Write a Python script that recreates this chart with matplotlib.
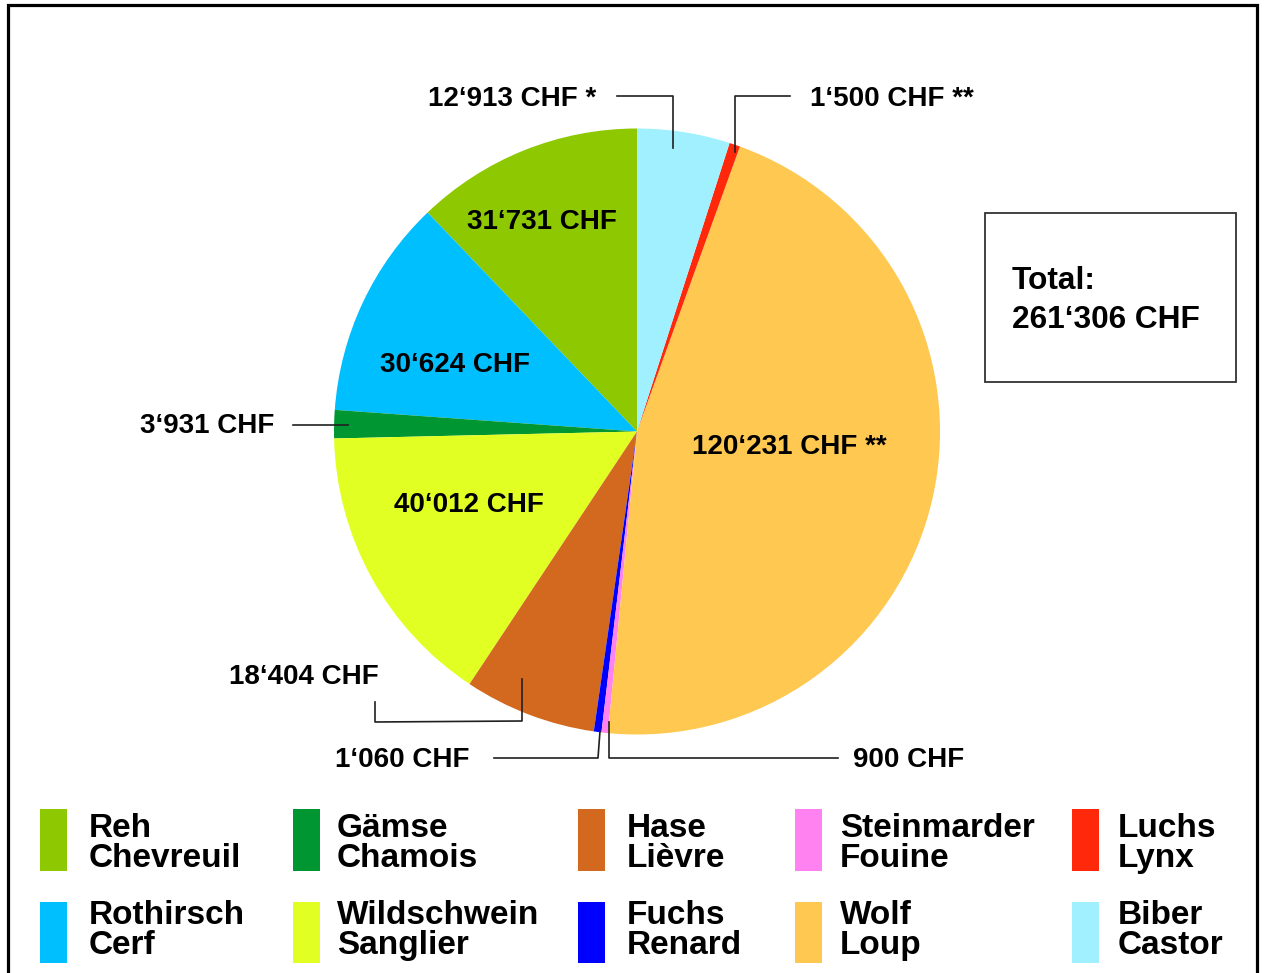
import matplotlib.pyplot as plt
from matplotlib.patches import Rectangle

plt.rcParams["font.family"] = ["Liberation Sans", "DejaVu Sans"]
plt.rcParams["font.weight"] = "bold"

# data (order counterclockwise from 12 o'clock)
species_de = ["Reh", "Rothirsch", "Gämse", "Wildschwein", "Hase",
              "Fuchs", "Steinmarder", "Wolf", "Luchs", "Biber"]
species_fr = ["Chevreuil", "Cerf", "Chamois", "Sanglier", "Lièvre",
              "Renard", "Fouine", "Loup", "Lynx", "Castor"]
costs = [31731, 30624, 3931, 40012, 18404, 1060, 900, 120231, 1500, 12913]
notes = ["", "", "", "", "", "", "", " **", " **", " *"]
colors = ["#8dc800", "#00bfff", "#009632", "#e1ff23", "#d2691e",
          "#0000ff", "#ff82f0", "#ffc850", "#ff280a", "#a0f0ff"]

# legend grid: row 1 then row 2
legend_rows = [["Reh", "Gämse", "Hase", "Steinmarder", "Luchs"],
               ["Rothirsch", "Wildschwein", "Fuchs", "Wolf", "Biber"]]

W, H = 1264, 973


def chf(v):
    return f"{v:,}".replace(",", "\u2018") + " CHF"


def P(x, y):
    # pixel coords (y down) -> axes coords (y up)
    return x, H - y


fig = plt.figure(figsize=(W / 100, H / 100), dpi=100)
ax = fig.add_axes([0, 0, 1, 1])

cx, cy = P(637, 431.5)
ax.pie(costs, colors=colors, startangle=90, counterclock=True,
       center=(cx, cy), radius=303, wedgeprops=dict(linewidth=0))
ax.set_xlim(0, W)
ax.set_ylim(0, H)
ax.set_aspect("auto")
ax.axis("off")

# outer frame
ax.plot([8, 8, 1257, 1257], [0, H - 5, H - 5, 0], color="black", lw=2.3,
        solid_joinstyle="miter")

# label placement (pixel coords, baseline)
label_pos = {
    "Reh": (542, 229, "center"),
    "Rothirsch": (455, 372, "center"),
    "Wildschwein": (469, 512, "center"),
    "Wolf": (789, 454, "center"),
    "Gämse": (140, 433, "left"),
    "Biber": (428, 106, "left"),
    "Luchs": (810, 106, "left"),
    "Hase": (229, 684, "left"),
    "Fuchs": (335, 767, "left"),
    "Steinmarder": (853, 767, "left"),
}
for name, v, n in zip(species_de, costs, notes):
    x, y, ha = label_pos[name]
    ax.text(*P(x, y), chf(v) + n, fontsize=20, ha=ha, va="baseline")

# leader lines
leaders = [
    [(617, 96), (673, 96), (673, 148)],
    [(790, 96), (735, 96), (735, 152)],
    [(293, 425), (348, 425)],
    [(375, 702), (375, 722), (522, 721), (522, 679)],
    [(494, 758), (598, 758), (600, 731)],
    [(838, 758), (609, 758), (609, 722)],
]
for pts in leaders:
    xs = [p[0] for p in pts]
    ys = [H - p[1] for p in pts]
    ax.plot(xs, ys, color="#202020", lw=1.2)

# total box
ax.add_patch(Rectangle(P(985, 382), 251, 169, fill=False,
                       edgecolor="#333333", lw=1.3))
ax.text(*P(1012, 289), "Total:", fontsize=22.8, va="baseline")
ax.text(*P(1012, 328), chf(sum(costs)), fontsize=22.8, va="baseline")

# legend
col_swatch_x = [40, 293, 578, 795, 1072]
col_text_x = [89, 337, 627, 840, 1118]
row_swatch_y = [(809, 871), (902, 963)]
row_baselines = [(837, 867), (924, 954)]
for r, row in enumerate(legend_rows):
    for c, name in enumerate(row):
        i = species_de.index(name)
        y0, y1 = row_swatch_y[r]
        ax.add_patch(Rectangle(P(col_swatch_x[c], y1), 27, y1 - y0,
                               color=colors[i], lw=0))
        b1, b2 = row_baselines[r]
        ax.text(*P(col_text_x[c], b1), species_de[i], fontsize=24,
                va="baseline")
        ax.text(*P(col_text_x[c], b2), species_fr[i], fontsize=24,
                va="baseline")

fig.savefig("out.png", dpi=100, facecolor="white")
